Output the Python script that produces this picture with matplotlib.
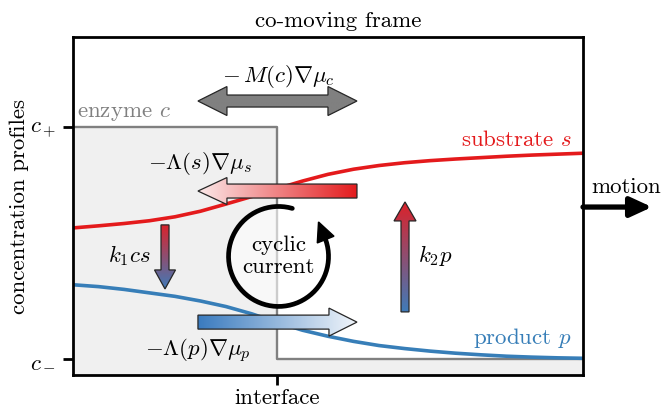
import numpy as np
import matplotlib
matplotlib.use("Agg")
import matplotlib.pyplot as plt
from matplotlib.patches import Polygon, Ellipse
from matplotlib.colors import LinearSegmentedColormap

plt.rcParams["font.family"] = "serif"
plt.rcParams["font.serif"] = ["cmr10"]
plt.rcParams["mathtext.fontset"] = "cm"
plt.rcParams["axes.unicode_minus"] = False
plt.rcParams["font.size"] = 16.5

# profiles across the interface at x = 0, with c_- = 0 and c_+ = 1
x = [-2.0, -1.75, -1.5, -1.25, -1.0, -0.75, -0.5, -0.25, 0.0, 0.25, 0.5,
     0.75, 1.0, 1.25, 1.5, 1.75, 2.0, 2.25, 2.5, 2.75, 3.0]
substrate = [0.565, 0.574, 0.584, 0.596, 0.613, 0.637, 0.668, 0.700, 0.734,
             0.767, 0.796, 0.818, 0.834, 0.846, 0.855, 0.862, 0.868, 0.874,
             0.879, 0.883, 0.887]
product = [0.320, 0.312, 0.300, 0.285, 0.270, 0.250, 0.226, 0.195, 0.158,
           0.124, 0.098, 0.076, 0.058, 0.045, 0.034, 0.025, 0.018, 0.012,
           0.008, 0.005, 0.003]
enzyme_x = [-2.0, 0.0, 0.0, 3.0]
enzyme_y = [1.0, 1.0, 0.0, 0.0]

y_ticks = [0, 1]
y_labels = ["$c_-$", "$c_+$"]
x_ticks = [0]
x_labels = ["interface"]

RED = "#e41a1c"
BLUE = "#377eb8"
GREY = "#808080"

# data units per pixel, so arrow sizes can be given in pixels
PX = 5 / 510
PY = 1 / 232


def block_arrow(ax, start, end, body, head, head_len, c_tail, c_tip, both=False):
    (x0, y0), (x1, y1) = start, end
    horiz = y0 == y1
    if horiz:
        L, s = abs(x1 - x0), np.sign(x1 - x0)
        hl, bw, hw = head_len * PX, body * PY / 2, head * PY / 2
    else:
        L, s = abs(y1 - y0), np.sign(y1 - y0)
        hl, bw, hw = head_len * PY, body * PX / 2, head * PX / 2
    if both:
        t = [0, hl, hl, L - hl, L - hl, L, L - hl, L - hl, hl, hl]
        w = [0, -hw, -bw, -bw, -hw, 0, hw, bw, bw, hw]
    else:
        t = [0, L - hl, L - hl, L, L - hl, L - hl, 0]
        w = [-bw, -bw, -hw, 0, hw, bw, bw]
    t = s * np.array(t)
    w = np.array(w)
    if horiz:
        pts = np.column_stack([x0 + t, y0 + w])
    else:
        pts = np.column_stack([x0 + w, y0 + t])
    poly = Polygon(pts, closed=True, fc="none", ec="#262626", lw=0.9, zorder=4)
    ax.add_patch(poly)

    cmap = LinearSegmentedColormap.from_list("grad", [c_tail, c_tip])
    g = np.linspace(0, 1, 256)
    if horiz:
        img = g[None, :] if s > 0 else g[None, ::-1]
    else:
        img = g[:, None] if s > 0 else g[::-1, None]
    (xmin, ymin), (xmax, ymax) = pts.min(axis=0), pts.max(axis=0)
    im = ax.imshow(img, cmap=cmap, extent=(xmin, xmax, ymin, ymax),
                   origin="lower", aspect="auto", zorder=3,
                   interpolation="bilinear")
    im.set_clip_path(poly)


fig = plt.figure(figsize=(6.63, 4.08), dpi=100)
ax = fig.add_axes([73 / 663, 33 / 408, 510 / 663, 338 / 408])

# enzyme step profile and its shaded region
ax.fill_between(enzyme_x, enzyme_y, -1, color="#f0f0f0", lw=0, zorder=0)
ax.plot(enzyme_x, enzyme_y, color=GREY, lw=1.7, zorder=1)

ax.plot(x, substrate, color=RED, lw=2.6, zorder=2)
ax.plot(x, product, color=BLUE, lw=2.6, zorder=2)

# fluxes
block_arrow(ax, (-0.775, 1.112), (0.784, 1.112), 12, 29, 29, GREY, GREY, both=True)
block_arrow(ax, (0.784, 0.724), (-0.775, 0.724), 14, 27, 29, "#e31a1c", "#fbeaea")
block_arrow(ax, (-0.775, 0.159), (0.784, 0.159), 14, 28, 28, "#3a7bbf", "#f2f6fb")
block_arrow(ax, (-1.098, 0.578), (-1.098, 0.302), 8, 21, 19, "#dc222a", "#3f7bb9")
block_arrow(ax, (1.255, 0.203), (1.255, 0.677), 8, 22, 19, "#3f7bb9", "#dc222a")

# cyclic current loop, drawn counter-clockwise, radius in pixels
cx, cy, R = 0.015, 0.442, 50
ax.add_patch(Ellipse((cx, cy), 2 * R * PX, 2 * R * PY, fc="white",
                     ec="none", alpha=0.6, zorder=2.5))
theta = np.radians(np.linspace(74, 382, 200))
ax.plot(cx + R * PX * np.cos(theta), cy + R * PY * np.sin(theta),
        color="k", lw=3.4, solid_capstyle="round", zorder=5)
th = theta[-1]
tang = np.array([-np.sin(th), np.cos(th)])
norm = np.array([np.cos(th), np.sin(th)])
base = R * norm - 2 * tang
head = np.array([base + 19 * tang, base + 9 * norm, base - 9 * norm])
ax.add_patch(Polygon(np.column_stack([cx + head[:, 0] * PX, cy + head[:, 1] * PY]),
                     closed=True, fc="k", ec="k", lw=1, zorder=5))

# labels
ax.text(0.01, 1.216, r"$-\,M(c)\nabla\mu_c$", ha="center", va="center")
ax.text(-0.755, 0.841, r"$-\Lambda(s)\nabla\mu_s$", ha="center", va="center")
ax.text(-0.775, 0.034, r"$-\Lambda(p)\nabla\mu_p$", ha="center", va="center")
ax.text(-1.45, 0.448, r"$k_1cs$", ha="center", va="center")
ax.text(1.55, 0.448, r"$k_2p$", ha="center", va="center")
ax.text(cx, cy, "cyclic\ncurrent", ha="center", va="center",
        linespacing=1.15, zorder=6)
ax.text(-1.96, 1.043, "enzyme $c$", color=GREY, ha="left", va="baseline")
ax.text(2.892, 0.918, "substrate $s$", color=RED, ha="right", va="baseline")
ax.text(2.892, 0.065, "product $p$", color=BLUE, ha="right", va="baseline")
ax.text(0.598, 1.457, "co-moving frame", ha="center", va="center",
        clip_on=False)
ax.text(-0.106, 0.5, "concentration profiles", rotation=90, ha="center",
        va="center", transform=ax.transAxes)

# the frame moves to the right
ax.text(3.42, 0.741, "motion", ha="center", va="center", clip_on=False)
ax.annotate("", xy=(3.676, 0.655), xytext=(3.0, 0.655),
            arrowprops=dict(arrowstyle="-|>,head_length=0.65,head_width=0.3",
                            mutation_scale=20, lw=3.8, color="k",
                            shrinkA=0, shrinkB=0),
            annotation_clip=False)

ax.set_xlim(-2, 3)
ax.set_ylim(-0.069, 1.388)
ax.set_yticks(y_ticks, y_labels)
ax.set_xticks(x_ticks, x_labels)
ax.tick_params(length=7, width=2, pad=5, labelsize=16.5)
ax.tick_params(axis="x", pad=3)
for sp in ax.spines.values():
    sp.set_linewidth(2)

fig.savefig("out.png", dpi=100)
